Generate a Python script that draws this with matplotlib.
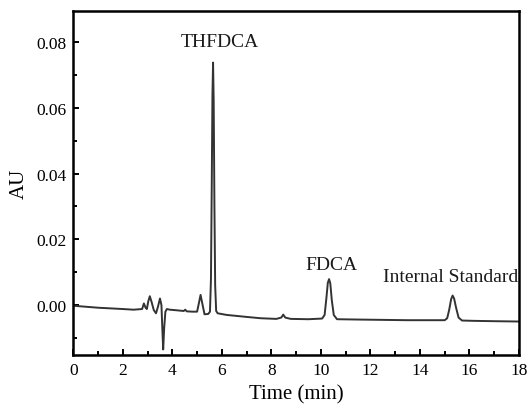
import matplotlib.pyplot as plt
from matplotlib.ticker import MultipleLocator

plt.rcParams['font.family'] = ['Liberation Serif', 'DejaVu Serif']

# chromatogram trace (time in min, absorbance in AU)
time = [0.0, 0.5, 1.0, 1.5, 2.0, 2.43, 2.78, 2.85, 2.92, 2.97, 3.03, 3.09, 3.16,
        3.25, 3.34, 3.42, 3.50, 3.56, 3.60, 3.63, 3.67, 3.72, 3.78, 3.9, 4.2,
        4.46, 4.52, 4.58, 4.8, 5.0, 5.07, 5.14, 5.21, 5.30, 5.45, 5.52, 5.56,
        5.59, 5.62, 5.645, 5.67, 5.70, 5.73, 5.77, 5.83, 6.2, 7.0, 7.56, 8.2,
        8.40, 8.48, 8.56, 8.78, 9.5, 10.05, 10.15, 10.22, 10.28, 10.33, 10.38,
        10.44, 10.52, 10.65, 11.5, 12.5, 13.5, 14.5, 15.0, 15.10, 15.18, 15.26,
        15.32, 15.38, 15.46, 15.56, 15.70, 16.2, 17.0, 18.0]
au = [-0.0002, -0.0005, -0.0008, -0.0010, -0.0012, -0.0014, -0.0012, 0.0005,
      -0.0008, -0.0012, 0.0012, 0.0027, 0.0010, -0.0015, -0.0025, -0.0005,
      0.0020, 0.0000, -0.0080, -0.0135, -0.0070, -0.0020, -0.0012, -0.0014,
      -0.0016, -0.0018, -0.0014, -0.0019, -0.0020, -0.0020, 0.0005, 0.0031,
      0.0005, -0.0028, -0.0027, -0.0020, 0.0080, 0.0350, 0.0640, 0.0738,
      0.0620, 0.0300, 0.0060, -0.0018, -0.0025, -0.0030, -0.0036, -0.0040,
      -0.0042, -0.0038, -0.0029, -0.0038, -0.0042, -0.0043, -0.0041, -0.0030,
      0.0020, 0.0068, 0.0079, 0.0066, 0.0015, -0.0030, -0.0043, -0.0044,
      -0.0045, -0.0046, -0.0046, -0.0046, -0.0040, -0.0015, 0.0018, 0.0029,
      0.0020, -0.0008, -0.0038, -0.0047, -0.0048, -0.0049, -0.0050]

peak_labels = ['THFDCA', 'FDCA', 'Internal Standard']
label_x = [5.92, 10.42, 15.25]
label_y = [0.0802, 0.0125, 0.0088]

fig = plt.figure(figsize=(5.3, 4.14), dpi=100)
ax = fig.add_axes([0.1383, 0.1408, 0.8409, 0.8295])

ax.plot(time, au, color='#333333', linewidth=1.4)

for name, x, y in zip(peak_labels, label_x, label_y):
    ax.text(x, y, name, ha='center', va='center', fontsize=14, color='#1a1a1a')

ax.set_xlim(0, 18)
ax.set_ylim(-0.0151, 0.0894)
ax.xaxis.set_major_locator(MultipleLocator(2))
ax.xaxis.set_minor_locator(MultipleLocator(1))
ax.yaxis.set_major_locator(MultipleLocator(0.02))
ax.yaxis.set_minor_locator(MultipleLocator(0.01))
ax.yaxis.set_major_formatter(plt.FormatStrFormatter('%.2f'))

ax.tick_params(which='both', direction='in', top=False, right=False,
               labelsize=12.5, width=1.4, pad=5)
ax.tick_params(which='major', length=4)
ax.tick_params(which='minor', length=3)
for s in ax.spines.values():
    s.set_linewidth(1.8)

ax.set_xlabel('Time (min)', fontsize=15, labelpad=5)
ax.set_ylabel('AU', fontsize=15, labelpad=5)

fig.savefig('out.png', dpi=100)
